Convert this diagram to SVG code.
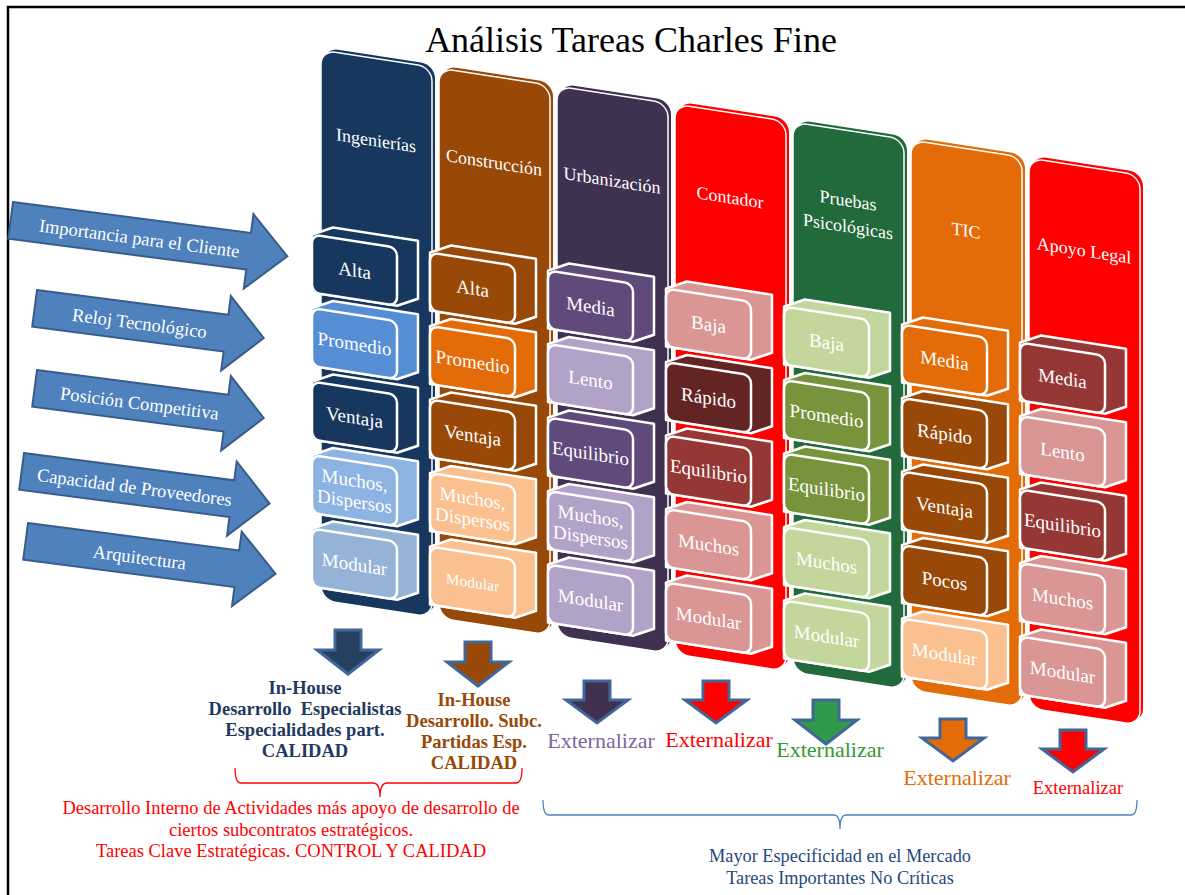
<svg xmlns="http://www.w3.org/2000/svg" width="1185" height="895" viewBox="0 0 1185 895">
<defs>
<style>
text{font-family:"Liberation Serif","Times New Roman",serif}
.frame{fill:none;stroke:#000;stroke-width:2.5}
.cb{stroke:none}
.cf{stroke:#fff;stroke-width:1.5}
.ext,.face{stroke:#fff;stroke-width:2.5;stroke-linejoin:round}
.bt{font-size:19px;fill:#fff;text-anchor:middle}
.bt.sm{font-size:15.5px}
.hd{font-size:18px;fill:#fff;text-anchor:middle}
.arr{fill:#4f81bd;stroke:#385d8a;stroke-width:2;stroke-linejoin:miter}
.at{font-size:18.5px;fill:#fff;text-anchor:middle}
.da{stroke:#41679a;stroke-width:3;stroke-linejoin:miter}
.ib{font-size:18.5px;font-weight:bold;text-anchor:middle}
.ext-t{font-family:"Liberation Serif","Times New Roman",serif;font-size:22px;text-anchor:middle}
.ext-t.sm{font-size:18.5px}
.brace{fill:none;stroke-width:1.3}
.note-r{font-size:18.5px;fill:#ff0000;text-anchor:middle}
.note-b{font-size:18.3px;fill:#1f497d;text-anchor:middle}
</style>
<path id="boxExt" d="M-9,0 L12,-10.3 L97,-10.3 L97,47.7 L76,58 L-9,58 Z"/>
</defs>
<rect width="1185" height="895" fill="#fff"/>
<path class="frame" d="M8,895 V7 H1185"/>
<text x="631" y="52" font-size="36" text-anchor="middle" fill="#000">Análisis Tareas Charles Fine</text>

<!-- Left criteria arrows -->
<g id="arrow-importancia" transform="translate(13,202) rotate(7.4)">
<path class="arr" d="M0,0 H240 V-19 L279,18.5 L240,56 V37 H0 Z"/>
<text class="at" x="130" y="26">Importancia para el Cliente</text>
</g>
<g id="arrow-reloj" transform="translate(37,290) rotate(7.4)">
<path class="arr" d="M0,0 H193 V-19 L231,18.5 L193,56 V37 H0 Z"/>
<text class="at" x="106" y="26">Reloj Tecnológico</text>
</g>
<g id="arrow-posicion" transform="translate(37,370) rotate(7.4)">
<path class="arr" d="M0,0 H193 V-19 L231,18.5 L193,56 V37 H0 Z"/>
<text class="at" x="106" y="26">Posición Competitiva</text>
</g>
<g id="arrow-capacidad" transform="translate(24,453) rotate(7.4)">
<path class="arr" d="M0,0 H212 V-19 L250,18.5 L212,56 V37 H0 Z"/>
<text class="at" x="114" y="26">Capacidad de Proveedores</text>
</g>
<g id="arrow-arquitectura" transform="translate(28,523) rotate(7.4)">
<path class="arr" d="M0,0 H213 V-19 L252,18.5 L213,56 V37 H0 Z"/>
<text class="at" x="115" y="26">Arquitectura</text>
</g>

<!-- Column 1 -->
<g id="col-ingenierias" transform="translate(321,50) skewY(8.8)">
<rect class="cb" x="3" y="-3" width="111" height="550" rx="14" fill="#17375e"/>
<rect class="cf" x="0" y="0" width="111" height="550" rx="14" fill="#17375e"/>
<text class="hd" x="55" y="88">Ingenierías</text>
<g id="c1-alta" transform="translate(0,186)"><use href="#boxExt" class="ext" fill="#17375e"/><rect class="face" x="-9" width="85" height="58" rx="8" fill="#17375e"/><text class="bt" x="33.5" y="35.5">Alta</text></g>
<g id="c1-promedio" transform="translate(0,259.5)"><use href="#boxExt" class="ext" fill="#558ed5"/><rect class="face" x="-9" width="85" height="58" rx="8" fill="#558ed5"/><text class="bt" x="33.5" y="35.5">Promedio</text></g>
<g id="c1-ventaja" transform="translate(0,333)"><use href="#boxExt" class="ext" fill="#17375e"/><rect class="face" x="-9" width="85" height="58" rx="8" fill="#17375e"/><text class="bt" x="33.5" y="35.5">Ventaja</text></g>
<g id="c1-muchos" transform="translate(0,406.5)"><use href="#boxExt" class="ext" fill="#8db3e2"/><rect class="face" x="-9" width="85" height="58" rx="8" fill="#8db3e2"/><text class="bt" x="33.5" y="25">Muchos,</text><text class="bt" x="33.5" y="46">Dispersos</text></g>
<g id="c1-modular" transform="translate(0,480)"><use href="#boxExt" class="ext" fill="#95b3d7"/><rect class="face" x="-9" width="85" height="58" rx="8" fill="#95b3d7"/><text class="bt" x="33.5" y="35.5">Modular</text></g>
</g>

<!-- Column 2 -->
<g id="col-construccion" transform="translate(439,68) skewY(8.8)">
<rect class="cb" x="3" y="-3" width="111" height="550" rx="14" fill="#984807"/>
<rect class="cf" x="0" y="0" width="111" height="550" rx="14" fill="#984807"/>
<text class="hd" x="55" y="92">Construcción</text>
<g id="c2-alta" transform="translate(0,186)"><use href="#boxExt" class="ext" fill="#984807"/><rect class="face" x="-9" width="85" height="58" rx="8" fill="#984807"/><text class="bt" x="33.5" y="35.5">Alta</text></g>
<g id="c2-promedio" transform="translate(0,259.5)"><use href="#boxExt" class="ext" fill="#e36c09"/><rect class="face" x="-9" width="85" height="58" rx="8" fill="#e36c09"/><text class="bt" x="33.5" y="35.5">Promedio</text></g>
<g id="c2-ventaja" transform="translate(0,333)"><use href="#boxExt" class="ext" fill="#984807"/><rect class="face" x="-9" width="85" height="58" rx="8" fill="#984807"/><text class="bt" x="33.5" y="35.5">Ventaja</text></g>
<g id="c2-muchos" transform="translate(0,406.5)"><use href="#boxExt" class="ext" fill="#fac090"/><rect class="face" x="-9" width="85" height="58" rx="8" fill="#fac090"/><text class="bt" x="33.5" y="25">Muchos,</text><text class="bt" x="33.5" y="46">Dispersos</text></g>
<g id="c2-modular" transform="translate(0,480)"><use href="#boxExt" class="ext" fill="#fac090"/><rect class="face" x="-9" width="85" height="58" rx="8" fill="#fac090"/><text class="bt sm" x="33.5" y="34.5">Modular</text></g>
</g>

<!-- Column 3 -->
<g id="col-urbanizacion" transform="translate(557,86) skewY(8.8)">
<rect class="cb" x="3" y="-3" width="111" height="550" rx="14" fill="#403151"/>
<rect class="cf" x="0" y="0" width="111" height="550" rx="14" fill="#403151"/>
<text class="hd" x="55" y="92">Urbanización</text>
<g id="c3-media" transform="translate(0,186)"><use href="#boxExt" class="ext" fill="#604a7b"/><rect class="face" x="-9" width="85" height="58" rx="8" fill="#604a7b"/><text class="bt" x="33.5" y="35.5">Media</text></g>
<g id="c3-lento" transform="translate(0,259.5)"><use href="#boxExt" class="ext" fill="#b3a2c7"/><rect class="face" x="-9" width="85" height="58" rx="8" fill="#b3a2c7"/><text class="bt" x="33.5" y="35.5">Lento</text></g>
<g id="c3-equilibrio" transform="translate(0,333)"><use href="#boxExt" class="ext" fill="#604a7b"/><rect class="face" x="-9" width="85" height="58" rx="8" fill="#604a7b"/><text class="bt" x="33.5" y="35.5">Equilibrio</text></g>
<g id="c3-muchos" transform="translate(0,406.5)"><use href="#boxExt" class="ext" fill="#b3a2c7"/><rect class="face" x="-9" width="85" height="58" rx="8" fill="#b3a2c7"/><text class="bt" x="33.5" y="25">Muchos,</text><text class="bt" x="33.5" y="46">Dispersos</text></g>
<g id="c3-modular" transform="translate(0,480)"><use href="#boxExt" class="ext" fill="#b3a2c7"/><rect class="face" x="-9" width="85" height="58" rx="8" fill="#b3a2c7"/><text class="bt" x="33.5" y="35.5">Modular</text></g>
</g>

<!-- Column 4 -->
<g id="col-contador" transform="translate(675,104) skewY(8.8)">
<rect class="cb" x="3" y="-3" width="111" height="550" rx="14" fill="#ff0000"/>
<rect class="cf" x="0" y="0" width="111" height="550" rx="14" fill="#ff0000"/>
<text class="hd" x="55" y="91">Contador</text>
<g id="c4-baja" transform="translate(0,186)"><use href="#boxExt" class="ext" fill="#d99694"/><rect class="face" x="-9" width="85" height="58" rx="8" fill="#d99694"/><text class="bt" x="33.5" y="35.5">Baja</text></g>
<g id="c4-rapido" transform="translate(0,259.5)"><use href="#boxExt" class="ext" fill="#632523"/><rect class="face" x="-9" width="85" height="58" rx="8" fill="#632523"/><text class="bt" x="33.5" y="35.5">Rápido</text></g>
<g id="c4-equilibrio" transform="translate(0,333)"><use href="#boxExt" class="ext" fill="#953735"/><rect class="face" x="-9" width="85" height="58" rx="8" fill="#953735"/><text class="bt" x="33.5" y="35.5">Equilibrio</text></g>
<g id="c4-muchos" transform="translate(0,406.5)"><use href="#boxExt" class="ext" fill="#d99694"/><rect class="face" x="-9" width="85" height="58" rx="8" fill="#d99694"/><text class="bt" x="33.5" y="35.5">Muchos</text></g>
<g id="c4-modular" transform="translate(0,480)"><use href="#boxExt" class="ext" fill="#d99694"/><rect class="face" x="-9" width="85" height="58" rx="8" fill="#d99694"/><text class="bt" x="33.5" y="35.5">Modular</text></g>
</g>

<!-- Column 5 -->
<g id="col-pruebas" transform="translate(793,122) skewY(8.8)">
<rect class="cb" x="3" y="-3" width="111" height="550" rx="14" fill="#226a3c"/>
<rect class="cf" x="0" y="0" width="111" height="550" rx="14" fill="#226a3c"/>
<text class="hd" x="55" y="76">Pruebas</text>
<text class="hd" x="55" y="102">Psicológicas</text>
<g id="c5-baja" transform="translate(0,186)"><use href="#boxExt" class="ext" fill="#c3d69b"/><rect class="face" x="-9" width="85" height="58" rx="8" fill="#c3d69b"/><text class="bt" x="33.5" y="35.5">Baja</text></g>
<g id="c5-promedio" transform="translate(0,259.5)"><use href="#boxExt" class="ext" fill="#77933c"/><rect class="face" x="-9" width="85" height="58" rx="8" fill="#77933c"/><text class="bt" x="33.5" y="35.5">Promedio</text></g>
<g id="c5-equilibrio" transform="translate(0,333)"><use href="#boxExt" class="ext" fill="#77933c"/><rect class="face" x="-9" width="85" height="58" rx="8" fill="#77933c"/><text class="bt" x="33.5" y="35.5">Equilibrio</text></g>
<g id="c5-muchos" transform="translate(0,406.5)"><use href="#boxExt" class="ext" fill="#c3d69b"/><rect class="face" x="-9" width="85" height="58" rx="8" fill="#c3d69b"/><text class="bt" x="33.5" y="35.5">Muchos</text></g>
<g id="c5-modular" transform="translate(0,480)"><use href="#boxExt" class="ext" fill="#c3d69b"/><rect class="face" x="-9" width="85" height="58" rx="8" fill="#c3d69b"/><text class="bt" x="33.5" y="35.5">Modular</text></g>
</g>

<!-- Column 6 -->
<g id="col-tic" transform="translate(911,140) skewY(8.8)">
<rect class="cb" x="3" y="-3" width="111" height="550" rx="14" fill="#e36c09"/>
<rect class="cf" x="0" y="0" width="111" height="550" rx="14" fill="#e36c09"/>
<text class="hd" x="55" y="88">TIC</text>
<g id="c6-media" transform="translate(0,186)"><use href="#boxExt" class="ext" fill="#e36c09"/><rect class="face" x="-9" width="85" height="58" rx="8" fill="#e36c09"/><text class="bt" x="33.5" y="35.5">Media</text></g>
<g id="c6-rapido" transform="translate(0,259.5)"><use href="#boxExt" class="ext" fill="#984807"/><rect class="face" x="-9" width="85" height="58" rx="8" fill="#984807"/><text class="bt" x="33.5" y="35.5">Rápido</text></g>
<g id="c6-ventaja" transform="translate(0,333)"><use href="#boxExt" class="ext" fill="#984807"/><rect class="face" x="-9" width="85" height="58" rx="8" fill="#984807"/><text class="bt" x="33.5" y="35.5">Ventaja</text></g>
<g id="c6-pocos" transform="translate(0,406.5)"><use href="#boxExt" class="ext" fill="#984807"/><rect class="face" x="-9" width="85" height="58" rx="8" fill="#984807"/><text class="bt" x="33.5" y="35.5">Pocos</text></g>
<g id="c6-modular" transform="translate(0,480)"><use href="#boxExt" class="ext" fill="#fac090"/><rect class="face" x="-9" width="85" height="58" rx="8" fill="#fac090"/><text class="bt" x="33.5" y="35.5">Modular</text></g>
</g>

<!-- Column 7 -->
<g id="col-apoyo-legal" transform="translate(1029,158) skewY(8.8)">
<rect class="cb" x="3" y="-3" width="111" height="550" rx="14" fill="#ff0000"/>
<rect class="cf" x="0" y="0" width="111" height="550" rx="14" fill="#ff0000"/>
<text class="hd" x="55" y="90">Apoyo Legal</text>
<g id="c7-media" transform="translate(0,186)"><use href="#boxExt" class="ext" fill="#953735"/><rect class="face" x="-9" width="85" height="58" rx="8" fill="#953735"/><text class="bt" x="33.5" y="35.5">Media</text></g>
<g id="c7-lento" transform="translate(0,259.5)"><use href="#boxExt" class="ext" fill="#d99694"/><rect class="face" x="-9" width="85" height="58" rx="8" fill="#d99694"/><text class="bt" x="33.5" y="35.5">Lento</text></g>
<g id="c7-equilibrio" transform="translate(0,333)"><use href="#boxExt" class="ext" fill="#953735"/><rect class="face" x="-9" width="85" height="58" rx="8" fill="#953735"/><text class="bt" x="33.5" y="35.5">Equilibrio</text></g>
<g id="c7-muchos" transform="translate(0,406.5)"><use href="#boxExt" class="ext" fill="#d99694"/><rect class="face" x="-9" width="85" height="58" rx="8" fill="#d99694"/><text class="bt" x="33.5" y="35.5">Muchos</text></g>
<g id="c7-modular" transform="translate(0,480)"><use href="#boxExt" class="ext" fill="#d99694"/><rect class="face" x="-9" width="85" height="58" rx="8" fill="#d99694"/><text class="bt" x="33.5" y="35.5">Modular</text></g>
</g>

<!-- Down arrows -->
<g id="connectors">
<path class="da" fill="#254061" d="M335,630 H361 V650 H379 L348,674 L317,650 H335 Z"/>
<path class="da" fill="#984807" d="M465,642 H491 V662 H509 L478,686 L447,662 H465 Z"/>
<path class="da" fill="#403151" d="M584,681 H610 V700 H628 L597,723 L566,700 H584 Z"/>
<path class="da" fill="#ff0000" d="M703,681 H729 V700 H747 L716,723 L685,700 H703 Z"/>
<path class="da" fill="#31994a" d="M813,700 H839 V720 H857 L826,744 L795,720 H813 Z"/>
<path class="da" fill="#e36c09" d="M940,719 H966 V738 H984 L953,761 L922,738 H940 Z"/>
<path class="da" fill="#ff0000" d="M1060,730 H1086 V749 H1104 L1073,772 L1042,749 H1060 Z"/>
</g>

<!-- Outcome texts -->
<g id="inhouse-1" fill="#1f3a60">
<text class="ib" x="305" y="694">In-House</text>
<text class="ib" x="305" y="715" xml:space="preserve">Desarrollo  Especialistas</text>
<text class="ib" x="305" y="736">Especialidades part.</text>
<text class="ib" x="305" y="757">CALIDAD</text>
</g>
<g id="inhouse-2" fill="#984807">
<text class="ib" x="474" y="706">In-House</text>
<text class="ib" x="474" y="727">Desarrollo. Subc.</text>
<text class="ib" x="474" y="748">Partidas Esp.</text>
<text class="ib" x="474" y="769">CALIDAD</text>
</g>
<text id="ext-3" class="ext-t" x="601" y="748" fill="#8064a2">Externalizar</text>
<text id="ext-4" class="ext-t" x="719" y="747" fill="#ff0000">Externalizar</text>
<text id="ext-5" class="ext-t" x="830" y="757" fill="#339933">Externalizar</text>
<text id="ext-6" class="ext-t" x="957" y="785" fill="#e36c09">Externalizar</text>
<text id="ext-7" class="ext-t sm" x="1078" y="794" fill="#ff0000">Externalizar</text>

<g id="brace-interno">
<path class="brace" stroke="#ff0000" d="M235,768 Q235,783 241,783 L373,783 Q380,783 380,797 Q380,783 387,783 L516,783 Q522,783 522,768"/>
<text class="note-r" x="291" y="814">Desarrollo Interno de Actividades más apoyo de desarrollo de</text>
<text class="note-r" x="291" y="836">ciertos subcontratos estratégicos.</text>
<text class="note-r" x="291" y="857">Tareas Clave Estratégicas. CONTROL Y CALIDAD</text>
</g>
<g id="brace-externo">
<path class="brace" stroke="#4f81bd" d="M543,800 Q543,815 549,815 L834,815 Q840,815 840,829 Q840,815 846,815 L1131,815 Q1137,815 1137,800"/>
<text class="note-b" x="840" y="862">Mayor Especificidad en el Mercado</text>
<text class="note-b" x="840" y="884">Tareas Importantes No Críticas</text>
</g>
</svg>
